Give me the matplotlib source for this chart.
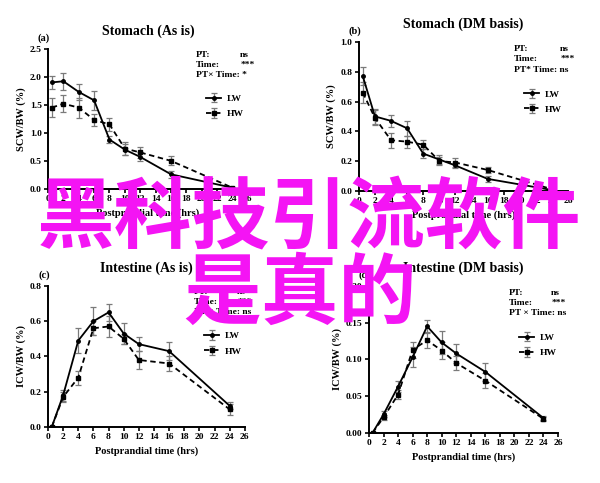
"""Four-panel chyme weight plot (stomach / intestine) with overlaid magenta banner text."""

import matplotlib
matplotlib.use("Agg")
import matplotlib.pyplot as plt

# time points (hrs)
hours = [0.5, 2, 4, 6, 8, 10, 12, 16, 24]

# (a) Stomach, as is
stom_as_lw = [1.90, 1.92, 1.73, 1.58, 0.88, 0.70, 0.57, 0.26, 0.02]
stom_as_lw_err = [0.12, 0.15, 0.15, 0.17, 0.07, 0.10, 0.08, 0.06, 0.01]
stom_as_hw = [1.45, 1.52, 1.45, 1.23, 1.15, 0.72, 0.65, 0.50, 0.02]
stom_as_hw_err = [0.17, 0.15, 0.18, 0.10, 0.12, 0.12, 0.10, 0.08, 0.01]

# (b) Stomach, DM basis
stom_dm_lw = [0.77, 0.50, 0.47, 0.42, 0.25, 0.21, 0.17, 0.08, 0.005]
stom_dm_lw_err = [0.06, 0.05, 0.04, 0.05, 0.03, 0.03, 0.02, 0.02, 0.005]
stom_dm_hw = [0.66, 0.49, 0.34, 0.33, 0.31, 0.20, 0.19, 0.14, 0.01]
stom_dm_hw_err = [0.07, 0.05, 0.05, 0.04, 0.03, 0.03, 0.03, 0.02, 0.005]

# (c) Intestine, as is
int_as_lw = [0.0, 0.18, 0.49, 0.60, 0.65, 0.53, 0.47, 0.43, 0.12]
int_as_lw_err = [0.0, 0.03, 0.07, 0.08, 0.05, 0.06, 0.04, 0.05, 0.02]
int_as_hw = [0.0, 0.17, 0.28, 0.56, 0.57, 0.50, 0.38, 0.36, 0.10]
int_as_hw_err = [0.0, 0.03, 0.04, 0.04, 0.06, 0.03, 0.05, 0.04, 0.03]

# (d) Intestine, DM basis
int_dm_lw = [0.0, 0.025, 0.063, 0.103, 0.145, 0.123, 0.108, 0.083, 0.020]
int_dm_lw_err = [0.0, 0.004, 0.007, 0.014, 0.008, 0.016, 0.013, 0.012, 0.003]
int_dm_hw = [0.0, 0.021, 0.052, 0.113, 0.126, 0.112, 0.095, 0.071, 0.019]
int_dm_hw_err = [0.0, 0.003, 0.006, 0.011, 0.010, 0.012, 0.010, 0.010, 0.003]

SERIF = "Liberation Serif"
GREY = "#7a7a7a"

PANELS = [
    dict(rect=[0.080, 0.609, 0.333, 0.290], lab="(a)", title="Stomach (As is)",
         ylabel="SCW/BW (%)", lw=stom_as_lw, lwe=stom_as_lw_err, hw=stom_as_hw, hwe=stom_as_hw_err,
         ylim=2.5, ystep=0.5, yfmt="{:.1f}", stats=("ns", "***", "*"), inter="PT\u00d7 Time:"),
    dict(rect=[0.598, 0.605, 0.349, 0.308], lab="(b)", title="Stomach (DM basis)",
         ylabel="SCW/BW (%)", lw=stom_dm_lw, lwe=stom_dm_lw_err, hw=stom_dm_hw, hwe=stom_dm_hw_err,
         ylim=1.0, ystep=0.2, yfmt="{:.1f}", stats=("ns", "***", "ns"), inter="PT* Time:"),
    dict(rect=[0.080, 0.116, 0.328, 0.292], lab="(c)", title="Intestine (As is)",
         ylabel="ICW/BW (%)", lw=int_as_lw, lwe=int_as_lw_err, hw=int_as_hw, hwe=int_as_hw_err,
         ylim=0.8, ystep=0.2, yfmt="{:.1f}", stats=("ns", "***", "ns"), inter="PT \u00d7 Time:"),
    dict(rect=[0.615, 0.104, 0.315, 0.304], lab="(d)", title="Intestine (DM basis)",
         ylabel="ICW/BW (%)", lw=int_dm_lw, lwe=int_dm_lw_err, hw=int_dm_hw, hwe=int_dm_hw_err,
         ylim=0.20, ystep=0.05, yfmt="{:.2f}", stats=("ns", "***", "ns"), inter="PT \u00d7 Time:"),
]


def draw_panel(fig, p):
    ax = fig.add_axes(p["rect"])
    ax.errorbar(hours, p["lw"], yerr=p["lwe"], color="black", lw=1.3, marker="o", ms=2.5,
                ecolor=GREY, elinewidth=0.9, capsize=2, capthick=0.9, label="LW")
    ax.errorbar(hours, p["hw"], yerr=p["hwe"], color="black", lw=1.3, ls=(0, (3, 2)), marker="s", ms=3,
                ecolor=GREY, elinewidth=0.9, capsize=2, capthick=0.9, label="HW")

    ax.set_xlim(0, 26)
    ax.set_ylim(0, p["ylim"])
    ax.set_xticks(range(0, 27, 2))
    n = int(round(p["ylim"] / p["ystep"]))
    yt = [i * p["ystep"] for i in range(n + 1)]
    ax.set_yticks(yt)
    ax.set_yticklabels([p["yfmt"].format(v) for v in yt])
    for s in ("top", "right"):
        ax.spines[s].set_visible(False)
    for s in ("left", "bottom"):
        ax.spines[s].set_linewidth(1.4)
    ax.tick_params(direction="out", length=3, width=1.2, labelsize=6.8, pad=1.5)
    for t in ax.get_xticklabels() + ax.get_yticklabels():
        t.set_fontfamily(SERIF)
        t.set_fontweight("bold")
    ax.set_xlabel("Postprandial time (hrs)", fontfamily=SERIF, fontweight="bold", fontsize=7.5, labelpad=4)
    ax.set_ylabel(p["ylabel"], fontfamily=SERIF, fontweight="bold", fontsize=7.5, labelpad=3)
    ax.set_title(p["title"], fontfamily=SERIF, fontweight="bold", fontsize=10, pad=10)
    ax.text(-0.02, 1.04, p["lab"], transform=ax.transAxes, fontfamily=SERIF, fontweight="bold",
            fontsize=7.5, ha="center", va="bottom")

    # stats block
    kw = dict(transform=ax.transAxes, fontfamily=SERIF, fontweight="bold", fontsize=6.8, va="center")
    ax.text(0.74, 0.955, "PT:", ha="left", **kw)
    ax.text(0.96, 0.955, p["stats"][0], ha="left", **kw)
    ax.text(0.74, 0.885, "Time:", ha="left", **kw)
    ax.text(0.965, 0.885, p["stats"][1], ha="left", **kw)
    ax.text(0.74, 0.815, p["inter"] + " " + p["stats"][2], ha="left", **kw)

    ax.legend(loc="upper left", bbox_to_anchor=(0.75, 0.735), frameon=False, handlelength=1.6,
              handletextpad=0.6, labelspacing=0.7,
              prop=dict(family=SERIF, weight="bold", size=6.8))
    return ax


fig = plt.figure(figsize=(6.0, 4.83), dpi=100)
for p in PANELS:
    draw_panel(fig, p)

# magenta banner text over the figure
banner = dict(color="#f414f4", fontfamily=["Noto Sans CJK SC", "DejaVu Sans"], fontweight="bold",
              ha="center", va="center", fontsize=56, zorder=10)
fig.text(0.515, 0.546, "黑科技引流软件", **banner)
fig.text(0.500, 0.390, "是真的", **banner)

fig.savefig("out.png", dpi=100)
